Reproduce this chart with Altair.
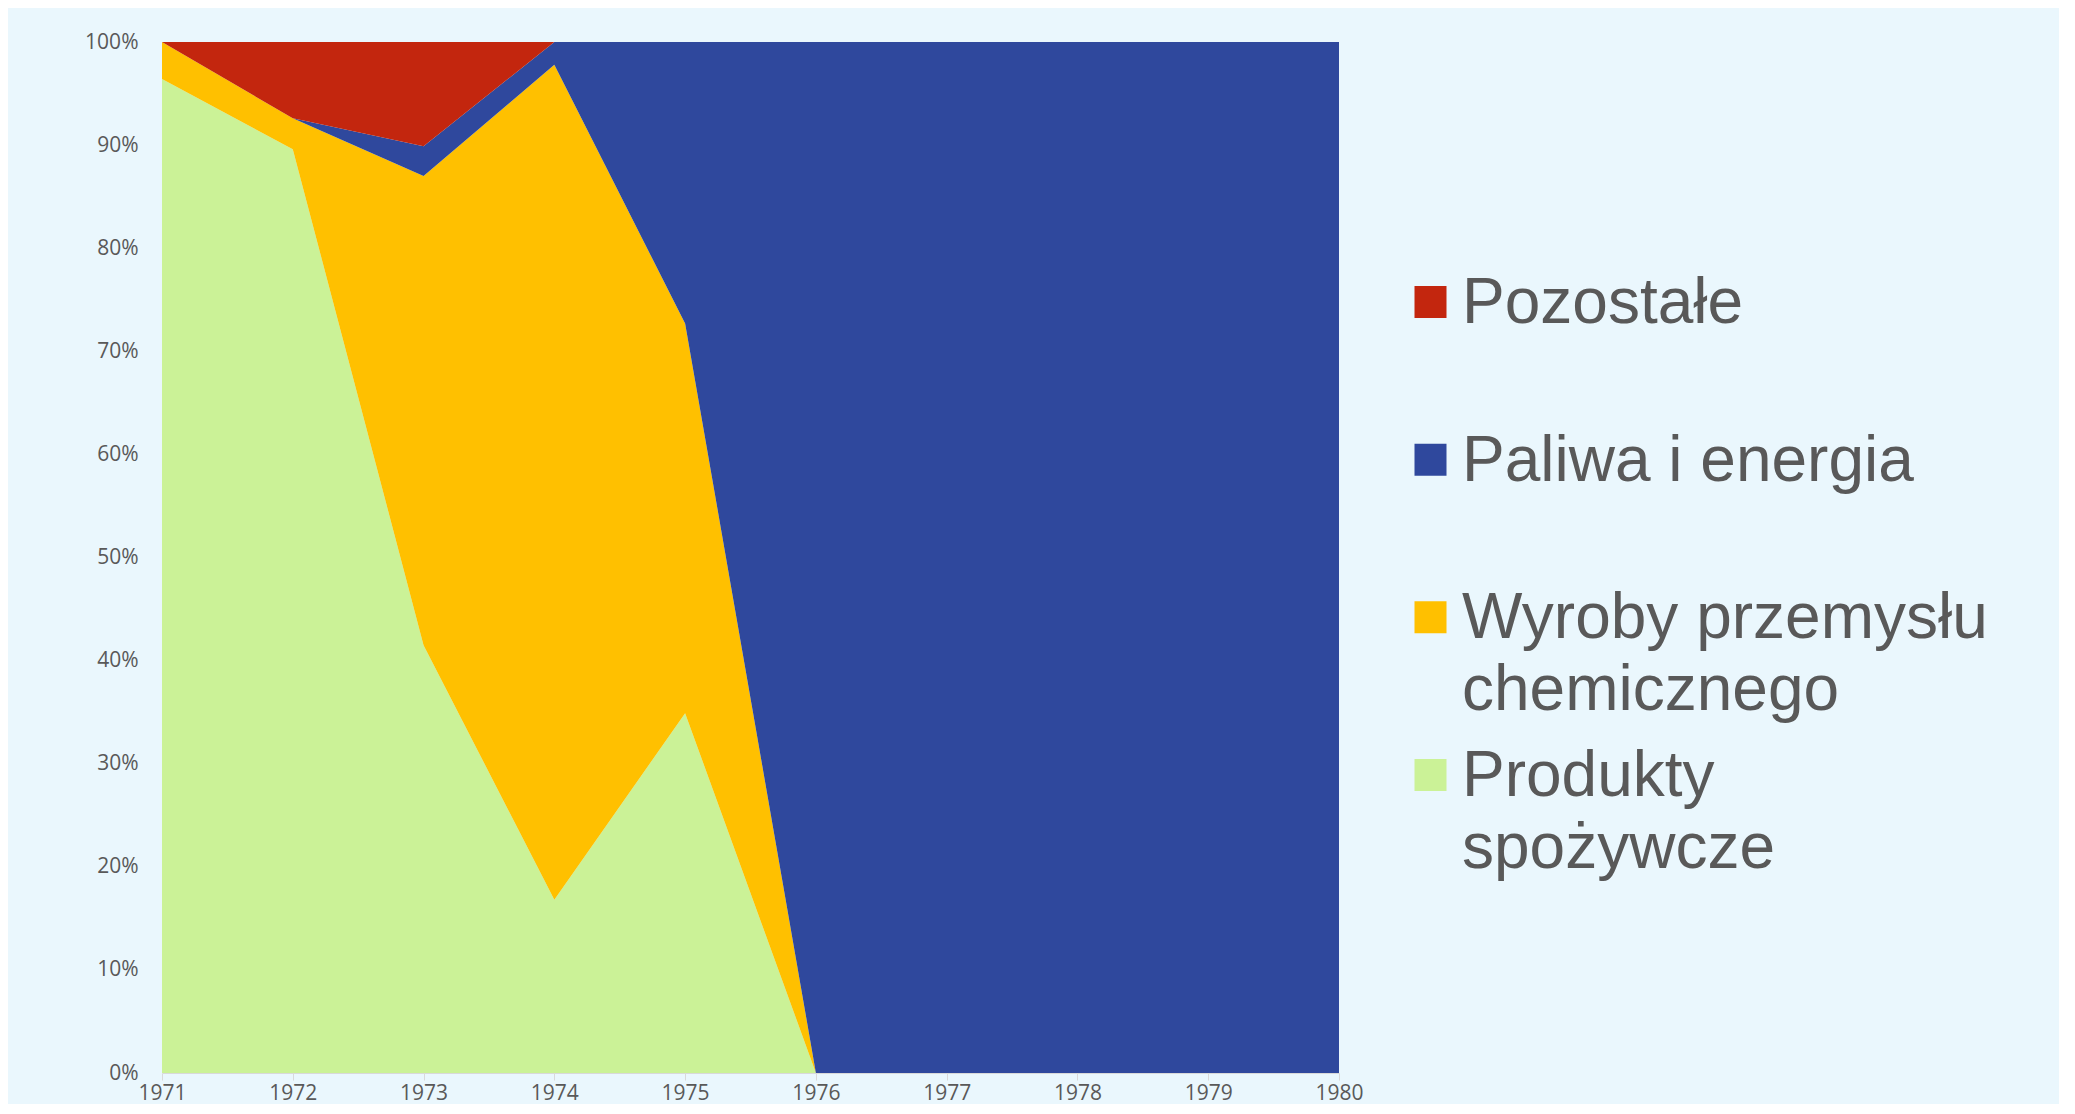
import altair as alt
import pandas as pd

years = [1971, 1972, 1973, 1974, 1975, 1976, 1977, 1978, 1979, 1980]
series_names = ["Produkty spożywcze", "Wyroby przemysłu chemicznego", "Paliwa i energia", "Pozostałe"]
produkty = [96.4, 89.6, 41.5, 16.8, 34.9, 0, 0, 0, 0, 0]
wyroby = [3.6, 3.0, 45.5, 81.0, 37.8, 0, 0, 0, 0, 0]
paliwa = [0, 0, 2.9, 2.2, 27.3, 100, 100, 100, 100, 100]
pozostale = [0, 7.4, 10.1, 0, 0, 0, 0, 0, 0, 0]
colors = ["#CBF297", "#FFC000", "#2F489D", "#C3260E"]
legend_order = ["Pozostałe", "Paliwa i energia", "Wyroby przemysłu chemicznego", "Produkty spożywcze"]
legend_text = ["Pozostałe", "Paliwa i energia", "Wyroby przemysłu\nchemicznego", "Produkty\nspożywcze"]
y_ticks = [i / 10 for i in range(11)]

rows = []
for k, (name, vals) in enumerate(zip(series_names, [produkty, wyroby, paliwa, pozostale])):
    for yr, v in zip(years, vals):
        rows.append({"year": yr, "series": name, "value": v, "ord": k})
df = pd.DataFrame(rows)
leg = pd.DataFrame({"series": legend_order, "label": legend_text})

color_scale = alt.Scale(domain=series_names, range=colors)

area = alt.Chart(df).mark_area(interpolate="linear").encode(
    x=alt.X("year:Q", scale=alt.Scale(domain=[1971, 1980], nice=False, zero=False),
            axis=alt.Axis(values=years, format="d", title=None, grid=False,
                          domainColor="#D9D9D9", tickColor="#D9D9D9", tickSize=7,
                          labelPadding=2, labelBaseline="top", labelFont="Open Sans", labelFontSize=21,
                          labelColor="#595959", labelFlush=False)),
    y=alt.Y("value:Q", stack="normalize",
            scale=alt.Scale(domain=[0, 1], nice=False),
            axis=alt.Axis(values=y_ticks, format=".0%", title=None, grid=False,
                          domain=False, ticks=False, labelPadding=24,
                          labelFont="Open Sans", labelFontSize=21, labelColor="#595959")),
    color=alt.Color("series:N", scale=color_scale, legend=None),
    order=alt.Order("ord:Q", sort="ascending"),
)

leg_y = alt.Y("series:N", scale=alt.Scale(type="point", domain=legend_order, range=[260, 733], padding=0), axis=None)

squares = alt.Chart(leg).mark_square(size=1024, opacity=1, filled=True).encode(
    x=alt.value(1268.5),
    y=leg_y,
    color=alt.Color("series:N", scale=color_scale, legend=None),
)

texts = alt.Chart(leg).mark_text(
    align="left", baseline="alphabetic", dy=21, lineBreak="\n", lineHeight=72,
    font="Liberation Sans", fontSize=64, color="#595959"
).encode(
    x=alt.value(1300),
    y=leg_y,
    text="label:N",
)

chart = alt.layer(area, squares, texts).resolve_scale(y="independent").properties(
    width=1177, height=1031,
    autosize=alt.AutoSizeParams(type="none"),
    padding={"left": 154, "top": 34, "right": 720, "bottom": 31},
    background="#EAF7FD",
).configure_view(stroke=None)

chart.save("out.html", embed_options={"renderer": "svg", "actions": False})
